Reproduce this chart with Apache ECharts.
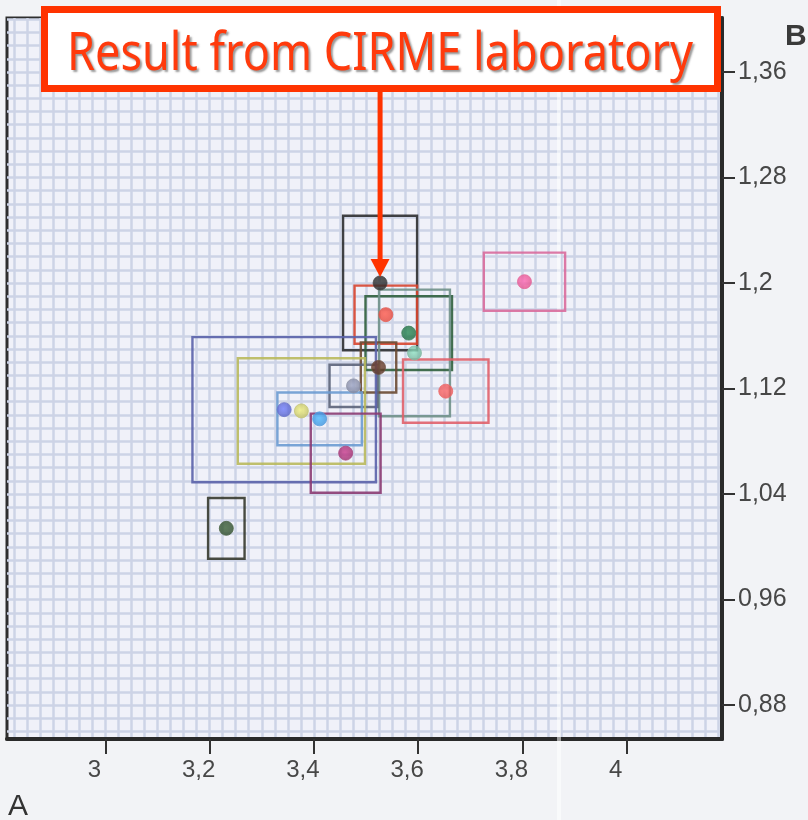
<!DOCTYPE html>
<html>
<head>
<meta charset="utf-8">
<script src="https://cdn.jsdelivr.net/npm/echarts@6/dist/echarts.min.js"></script>
<style>
html,body{margin:0;padding:0;background:#f2f3f6;}
#c{width:808px;height:820px;}
</style>
</head>
<body>
<div id="c"></div>
<script>
// ---- data ----
const labNames = ['CIRME', 'Lab 2', 'Lab 3', 'Lab 4', 'Lab 5', 'Lab 6', 'Lab 7',
                  'Lab 8', 'Lab 9', 'Lab 10', 'Lab 11', 'Lab 12', 'Lab 13'];
const labX = [3.527, 3.538, 3.582, 3.593, 3.524, 3.476, 3.343, 3.376, 3.411, 3.461, 3.653, 3.804, 3.232];
const labY = [1.200, 1.176, 1.162, 1.147, 1.136, 1.122, 1.104, 1.103, 1.097, 1.071, 1.118, 1.201, 1.014];
const uncX = [0.071, 0.060, 0.083, 0.068, 0.034, 0.046, 0.176, 0.122, 0.081, 0.067, 0.082, 0.078, 0.035];
const uncY = [0.051, 0.022, 0.028, 0.048, 0.019, 0.016, 0.055, 0.040, 0.020, 0.030, 0.024, 0.022, 0.023];
const xTicks = [3, 3.2, 3.4, 3.6, 3.8, 4];
const yTicks = [0.88, 0.96, 1.04, 1.12, 1.2, 1.28, 1.36];
const xAxisName = 'A';
const yAxisName = 'B';
const annotationText = 'Result from CIRME laboratory';

// ---- styles ----
const pointColors = ['#262626', '#e0453a', '#1f6a40', '#6fae96', '#5a3424', '#7b8098', '#5560c2',
                     '#bcbb62', '#3b8fd9', '#9b2c6c', '#e85252', '#e0508a', '#2d4a2a'];
const boxColors = ['#2c2e30', '#d8452f', '#2f5f3c', '#6f9088', '#6a4a32', '#5b6379', '#5a62aa',
                   '#b9b95c', '#6b9bd2', '#8b3b72', '#e0606a', '#d96c9c', '#35382e'];

// axis extents of the framed area
const XMIN = 2.8112, XMAX = 4.183, YMIN = 0.8543, YMAX = 1.4009;
// graph-paper lines
const gridX = []; for (let k = 113; k <= 167; k++) gridX.push(k * 25 / 1000);
const gridY = []; for (let k = 86; k <= 140; k++) gridY.push(k / 100);

const fmt = v => String(v).replace('.', ',');

const chart = echarts.init(document.getElementById('c'), null, {renderer: 'canvas'});

const boxData = labX.map((x, i) => [x, labY[i], uncX[i], uncY[i]]);
const pointData = labX.map((x, i) => ({
  name: labNames[i],
  value: [x, labY[i]],
  itemStyle: {
    color: new echarts.graphic.RadialGradient(0.45, 0.45, 0.6, [
      {offset: 0, color: echarts.color.lift(pointColors[i], -0.3)},
      {offset: 1, color: pointColors[i]}
    ]),
    borderColor: echarts.color.lift(pointColors[i], 0.15),
    borderWidth: 1
  }
}));

chart.setOption({
  backgroundColor: '#f2f3f6',
  animation: false,
  grid: {
    left: 7, right: 86, top: 18, bottom: 81,
    show: true, backgroundColor: '#f0f1f9',
    borderColor: '#2e2e2e', borderWidth: 3,
    containLabel: false, outerBoundsMode: 'none'
  },
  xAxis: [
    {
      type: 'value', min: XMIN, max: XMAX, position: 'bottom',
      axisLine: {show: true, onZero: false, lineStyle: {color: '#2a2a2a', width: 4}},
      axisTick: {show: true, customValues: xTicks, length: 15, lineStyle: {color: '#333', width: 2}},
      axisLabel: {customValues: xTicks, formatter: fmt, color: '#474747', fontSize: 24,
                  fontFamily: 'Liberation Sans', margin: 19, padding: [0, 22, 0, 0]},
      splitLine: {show: false}
    },
    {
      type: 'value', min: XMIN, max: XMAX, position: 'top',
      axisLine: {show: false}, axisLabel: {show: false},
      axisTick: {show: false, customValues: gridX},
      splitLine: {show: true, lineStyle: {color: '#cdd3e6', width: 2.5}}
    }
  ],
  yAxis: [
    {
      type: 'value', min: YMIN, max: YMAX, position: 'right',
      axisLine: {show: true, onZero: false, lineStyle: {color: '#2a2a2a', width: 4}},
      axisTick: {show: true, customValues: yTicks, length: 13, lineStyle: {color: '#333', width: 2}},
      axisLabel: {customValues: yTicks, formatter: fmt, color: '#474747', fontSize: 25,
                  fontFamily: 'Liberation Sans', margin: 16},
      splitLine: {show: false}
    },
    {
      type: 'value', min: YMIN, max: YMAX, position: 'left',
      axisLine: {show: false}, axisLabel: {show: false},
      axisTick: {show: false, customValues: gridY},
      splitLine: {show: true, lineStyle: {color: '#cdd3e6', width: 2.5}}
    }
  ],
  series: [
    {
      type: 'custom', xAxisIndex: 0, yAxisIndex: 0, z: 3,
      data: boxData,
      encode: {x: 0, y: 1},
      renderItem: function (params, api) {
        const i = params.dataIndex;
        const x = api.value(0), y = api.value(1), ux = api.value(2), uy = api.value(3);
        const p1 = api.coord([x - ux, y + uy]);
        const p2 = api.coord([x + ux, y - uy]);
        return {
          type: 'rect',
          shape: {x: p1[0], y: p1[1], width: p2[0] - p1[0], height: p2[1] - p1[1]},
          style: {fill: 'none', stroke: boxColors[i], lineWidth: 2.4, opacity: 0.9}
        };
      }
    },
    {
      type: 'scatter', xAxisIndex: 0, yAxisIndex: 0, z: 4,
      symbol: 'circle', symbolSize: 14,
      data: pointData
    }
  ]
});

// ---- annotation, axis names, scan fold ----
const p = chart.convertToPixel({xAxisIndex: 0, yAxisIndex: 0}, [labX[0], labY[0]]);

const fontPx = 52;
const ctx = document.createElement('canvas').getContext('2d');
ctx.font = fontPx + 'px "Noto Sans"';
const tw = ctx.measureText(annotationText).width;
const sx = 626 / tw;

chart.setOption({
  graphic: [
    {type: 'rect', z: 1, silent: true, shape: {x: 557, y: 0, width: 4, height: 820},
     style: {fill: 'rgba(255,255,255,0.55)'}},
    {type: 'rect', z: 100, shape: {x: 44.5, y: 9.5, width: 673, height: 79},
     style: {fill: '#ffffff', stroke: '#ff3300', lineWidth: 7}},
    {type: 'text', z: 101, x: 380, y: 81, scaleX: sx,
     style: {text: annotationText, x: 0, y: 0, fontSize: fontPx, fontFamily: 'Noto Sans',
             fill: '#ff3a0c', textAlign: 'center', textVerticalAlign: 'bottom', verticalAlign: 'alphabetic',
             textShadowColor: 'rgba(110,110,110,0.7)', textShadowOffsetX: 2, textShadowOffsetY: 2, textShadowBlur: 2}},
    {type: 'line', z: 99, shape: {x1: p[0], y1: 92, x2: p[0], y2: p[1] - 22},
     style: {stroke: '#ff3300', lineWidth: 5}},
    {type: 'polygon', z: 99, shape: {points: [[p[0] - 9.5, p[1] - 24], [p[0] + 9.5, p[1] - 24], [p[0], p[1] - 6]]},
     style: {fill: '#ff3300'}},
    {type: 'text', z: 50, x: 8, y: 792,
     style: {text: xAxisName, fontSize: 30, fontFamily: 'Liberation Sans', fill: '#333', textAlign: 'left'}},
    {type: 'text', z: 50, x: 785, y: 22,
     style: {text: yAxisName, fontSize: 30, fontFamily: 'Liberation Sans', fontWeight: 'bold', fill: '#3a3a3a', textAlign: 'left'}}
  ]
});
</script>
</body>
</html>
